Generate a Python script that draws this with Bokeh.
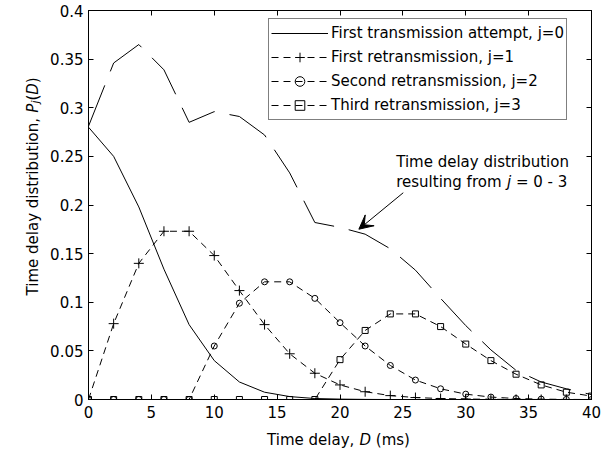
from bokeh.plotting import figure
from bokeh.layouts import column, row
from bokeh.models import (Range1d, LinearAxis, FixedTicker, Label, Arrow, VeeHead,
                          Legend, LegendItem, CustomJSTickFormatter)
from bokeh.embed import file_html
from bokeh.resources import INLINE

# ---------------- data ----------------
delay_ms = [0, 2, 4, 6, 8, 10, 12, 14, 16, 18, 20, 22, 24, 26, 28, 30, 32, 34, 36, 38, 40]

p_j0 = [0.280, 0.250, 0.198, 0.134, 0.077, 0.040, 0.018, 0.0075, 0.003, 0.001, 0.0004,
        0.0001, 0, 0, 0, 0, 0, 0, 0, 0, 0]
p_j1 = [0, 0.078, 0.140, 0.173, 0.173, 0.148, 0.112, 0.077, 0.047, 0.027, 0.015,
        0.008, 0.004, 0.002, 0.001, 0.0005, 0.0002, 0.0001, 0, 0, 0]
p_j2 = [0, 0, 0, 0, 0, 0.055, 0.099, 0.121, 0.121, 0.104, 0.079,
        0.055, 0.035, 0.020, 0.011, 0.0055, 0.0025, 0.001, 0.0004, 0.0001, 0]
p_j3 = [0, 0, 0, 0, 0, 0, 0, 0, 0, 0, 0.041,
        0.071, 0.088, 0.088, 0.075, 0.057, 0.040, 0.026, 0.015, 0.0075, 0.0035]
p_total = [0.281, 0.346, 0.365, 0.339, 0.285, 0.296, 0.291, 0.272, 0.233, 0.182, 0.177,
           0.170, 0.155, 0.133, 0.104, 0.076, 0.051, 0.030, 0.018, 0.011, 0.005]

x_ticks = [0, 5, 10, 15, 20, 25, 30, 35, 40]
x_tick_labels = ["0", "5", "10", "15", "20", "25", "30", "35", "40"]
y_ticks = [0, 0.05, 0.1, 0.15, 0.2, 0.25, 0.3, 0.35, 0.4]
y_tick_labels = ["0", "0.05", "0.1", "0.15", "0.2", "0.25", "0.3", "0.35", "0.4"]

legend_labels = ["First transmission attempt, j=0",
                 "First retransmission, j=1",
                 "Second retransmission, j=2",
                 "Third retransmission, j=3"]

FONT = "DejaVu Sans"
FS = 15

# layout geometry (pixels)
TOTAL_W, TOTAL_H = 612, 450
YLAB_W = 46
MAIN_H = 424
XLAB_H = TOTAL_H - MAIN_H

# ---------------- main figure ----------------
p = figure(width=TOTAL_W - YLAB_W, height=MAIN_H, x_range=Range1d(0, 40), y_range=Range1d(0, 0.4),
           output_backend="svg", toolbar_location=None,
           min_border_left=88 - YLAB_W, min_border_right=21, min_border_top=10, min_border_bottom=25)
p.background_fill_color = "white"
p.border_fill_color = "white"
p.xgrid.grid_line_color = None
p.ygrid.grid_line_color = None
p.outline_line_color = "black"
p.outline_line_width = 1
p.outline_line_alpha = 1.0

def style_axis(ax, ticks, labels=None, standoff=5):
    ax.ticker = FixedTicker(ticks=ticks)
    ax.minor_tick_line_color = None
    ax.major_tick_in = 5
    ax.major_tick_out = 0
    ax.major_tick_line_color = "black"
    ax.axis_line_color = "black"
    if labels is not None:
        ax.major_label_overrides = {t: l for t, l in zip(ticks, labels)}
        ax.major_label_text_font = FONT
        ax.major_label_text_font_size = f"{FS}px"
        ax.major_label_text_color = "black"
        ax.major_label_standoff = standoff
    else:
        ax.formatter = CustomJSTickFormatter(code="return ''")
        ax.major_label_text_font_size = "1px"
        ax.major_label_standoff = 0

style_axis(p.xaxis[0], x_ticks, x_tick_labels, standoff=6)
style_axis(p.yaxis[0], y_ticks, y_tick_labels, standoff=5)
top_ax = LinearAxis()
right_ax = LinearAxis()
style_axis(top_ax, x_ticks)
style_axis(right_ax, y_ticks)
p.add_layout(top_ax, "above")
p.add_layout(right_ax, "right")

# ---------------- series ----------------
r0 = p.line(delay_ms, p_j0, line_color="black", line_width=1)

r1l = p.line(delay_ms, p_j1, line_color="black", line_width=1, line_dash="7 5")
r1m = p.scatter(delay_ms, p_j1, marker="cross", size=10, line_color="black", line_width=1)

r2l = p.line(delay_ms, p_j2, line_color="black", line_width=1, line_dash="7 5")
r2m = p.scatter(delay_ms, p_j2, marker="circle", size=6, line_color="black",
                fill_color=None, line_width=1)

r3l = p.line(delay_ms, p_j3, line_color="black", line_width=1, line_dash="7 5")
r3m = p.scatter(delay_ms, p_j3, marker="square", size=6, line_color="black",
                fill_color=None, line_width=1)

rt = p.line(delay_ms, p_total, line_color="black", line_width=1, line_dash="44 15")

legend = Legend(items=[
    LegendItem(label=legend_labels[0], renderers=[r0]),
    LegendItem(label=legend_labels[1], renderers=[r1l, r1m]),
    LegendItem(label=legend_labels[2], renderers=[r2l, r2m]),
    LegendItem(label=legend_labels[3], renderers=[r3l, r3m]),
], location=(180, 279))
legend.border_line_color = "black"
legend.border_line_width = 1
legend.background_fill_color = "white"
legend.background_fill_alpha = 1.0
legend.label_text_font = FONT
legend.label_text_font_size = f"{FS}px"
legend.label_text_color = "black"
legend.glyph_width = 57
legend.glyph_height = 24
legend.label_height = 24
legend.spacing = 0
legend.padding = 2
legend.label_standoff = 3
legend.margin = 0
p.add_layout(legend)

# ---------------- rich text helpers (DejaVu Sans advance widths /1000 em) ----------------
W = {' ': 318, ',': 318, '.': 318, '-': 361, '=': 838, '(': 390, ')': 390,
     '0': 636, '1': 636, '2': 636, '3': 636, '4': 636, '5': 636, '6': 636, '7': 636,
     '8': 636, '9': 636,
     'D': 770, 'P': 603, 'T': 611, 'F': 575, 'S': 635,
     'a': 613, 'b': 635, 'c': 550, 'd': 635, 'e': 615, 'f': 352, 'g': 635, 'h': 634,
     'i': 278, 'j': 278, 'k': 579, 'l': 278, 'm': 974, 'n': 634, 'o': 612, 'p': 635,
     'q': 635, 'r': 411, 's': 521, 't': 392, 'u': 634, 'v': 592, 'w': 818, 'x': 592,
     'y': 592, 'z': 525}

def tw(s, size):
    return sum(W.get(c, 600) for c in s) * size / 1000.0

def total_width(runs):
    return sum(tw(t, s) for t, _, s, _ in runs)

def rich_text(fig, runs, x, y, x_off, y_off, angle=0.0):
    pos = 0.0
    for text, style, size, shift in runs:
        stripped = text.lstrip(' ')
        pos += tw(text[:len(text) - len(stripped)], size)
        body = stripped.rstrip(' ')
        if body:
            if angle == 0.0:
                xo, yo = x_off + pos, y_off - shift
            else:
                xo, yo = x_off + shift, y_off + pos
            fig.add_layout(Label(x=x, y=y, x_offset=xo, y_offset=yo, text=body, angle=angle,
                                 text_font=FONT, text_font_style=style,
                                 text_font_size=f"{size}px", text_align="left",
                                 text_baseline="alphabetic", text_color="black"))
        pos += tw(stripped, size)

def text_panel(w, h):
    f = figure(width=w, height=h, x_range=Range1d(0, w), y_range=Range1d(0, h),
               output_backend="svg", toolbar_location=None, x_axis_type=None, y_axis_type=None,
               min_border_left=0, min_border_right=0, min_border_top=0, min_border_bottom=0)
    f.xgrid.grid_line_color = None
    f.ygrid.grid_line_color = None
    f.outline_line_color = None
    f.background_fill_color = "white"
    f.border_fill_color = "white"
    return f

# annotation inside the plot
rich_text(p, [("Time delay distribution", "normal", FS, 0)], 24.47, 0.2444, 0, 0)
rich_text(p, [("resulting from ", "normal", FS, 0), ("j", "italic", FS, 0),
              (" = 0 - 3", "normal", FS, 0)], 24.47, 0.2236, 0, 0)
p.add_layout(Arrow(end=VeeHead(size=14, fill_color="black", line_color="black", line_width=1),
                   x_start=25.03, y_start=0.2126, x_end=21.5, y_end=0.1751,
                   line_color="black", line_width=1))

# y axis label: "Time delay distribution, P_j(D)" (rotated, own panel on the left)
ylab_fig = text_panel(YLAB_W, MAIN_H)
ylab = [("Time delay distribution, ", "normal", FS, 0), ("P", "italic", FS, 0),
        ("j", "italic", 11, 3), ("(", "normal", FS, 0), ("D", "italic", FS, 0),
        (")", "normal", FS, 0)]
y_center = MAIN_H - 201.5
rich_text(ylab_fig, ylab, 32, y_center - total_width(ylab) / 2.0, 0, 0,
          angle=1.5707963267948966)

# x axis label: "Time delay, D (ms)" (own panel below)
xlab_fig = text_panel(TOTAL_W, XLAB_H)
xlab = [("Time delay, ", "normal", FS, 0), ("D", "italic", FS, 0), (" (ms)", "normal", FS, 0)]
rich_text(xlab_fig, xlab, 338 - total_width(xlab) / 2.0, TOTAL_H - 439, 0, 0)

layout = column(row(ylab_fig, p, spacing=0), xlab_fig, spacing=0)

open("out.html", "w").write(file_html(layout, INLINE))
